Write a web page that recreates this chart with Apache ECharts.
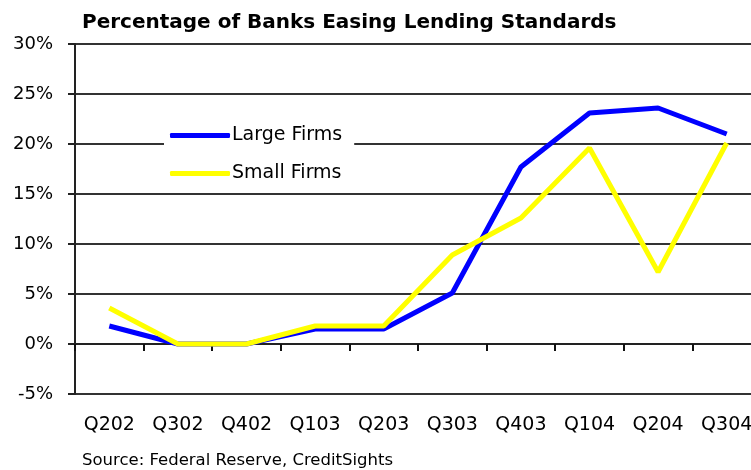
<!DOCTYPE html>
<html>
<head>
<meta charset="utf-8">
<script src="https://cdn.jsdelivr.net/npm/echarts@6/dist/echarts.min.js"></script>
<style>
  html, body { margin: 0; padding: 0; background: #fff; }
  #chart { width: 751px; height: 470px; }
</style>
</head>
<body>
<div id="chart"></div>
<script>
// Quarterly survey periods
const quarters = ['Q202', 'Q302', 'Q402', 'Q103', 'Q203', 'Q303', 'Q403', 'Q104', 'Q204', 'Q304'];
// Share of banks easing standards (%), by borrower size
const largeFirms = [1.8, 0, 0, 1.5, 1.5, 5.1, 17.7, 23.1, 23.6, 21.0];
const smallFirms = [3.6, 0, 0, 1.8, 1.8, 8.9, 12.6, 19.6, 7.2, 20.1];
// Value axis range and step
const yMin = -5, yMax = 30, yStep = 5;

const FONT = 'DejaVu Sans';
const chart = echarts.init(document.getElementById('chart'), null, { renderer: 'canvas' });

chart.setOption({
  animation: false,
  backgroundColor: '#ffffff',
  title: [
    {
      text: 'Percentage of Banks Easing Lending Standards',
      left: 82, top: 13, padding: 0,
      textStyle: { fontFamily: FONT, fontWeight: 'bold', fontSize: 20, color: '#000' }
    },
    {
      text: 'Source: Federal Reserve, CreditSights',
      left: 82, top: 452, padding: 0,
      textStyle: { fontFamily: FONT, fontWeight: 'normal', fontSize: 16.5, color: '#000' }
    }
  ],
  legend: {
    orient: 'vertical',
    left: 164, top: 118,
    padding: [8, 12, 8, 6],
    backgroundColor: '#ffffff',
    itemWidth: 60, itemHeight: 5, itemGap: 19,
    icon: 'roundRect',
    textStyle: { fontFamily: FONT, fontSize: 19, color: '#000', padding: [0, 0, 0, -3] },
    data: ['Large Firms', 'Small Firms']
  },
  grid: { left: 75, top: 44, width: 686, height: 350, containLabel: false, outerBoundsMode: 'none' },
  xAxis: [
    {
      // category labels along the bottom of the plot
      type: 'category', data: quarters, position: 'bottom', boundaryGap: true,
      axisLine: { show: false, onZero: false },
      axisTick: { show: false },
      axisLabel: {
        interval: 0, hideOverlap: false,
        fontFamily: FONT, fontSize: 19, color: '#000', margin: 22
      },
      splitLine: { show: false }
    },
    {
      // baseline with tick marks at the zero level
      type: 'category', data: quarters, position: 'bottom', boundaryGap: true,
      axisLine: { show: true, onZero: true, lineStyle: { color: '#222', width: 2 } },
      axisTick: { show: true, interval: 0, length: 7, inside: false, lineStyle: { color: '#111', width: 2 } },
      axisLabel: { show: false },
      splitLine: { show: false }
    }
  ],
  yAxis: {
    type: 'value', min: yMin, max: yMax, interval: yStep,
    axisLine: { show: true, onZero: false, lineStyle: { color: '#222', width: 2 } },
    axisTick: { show: true, length: 7, lineStyle: { color: '#222', width: 2 } },
    axisLabel: { fontFamily: FONT, fontSize: 18, color: '#000', margin: 22, formatter: '{value}%' },
    splitLine: { show: true, lineStyle: { color: '#333', width: 2 } }
  },
  series: [
    {
      name: 'Large Firms', type: 'line', data: largeFirms, xAxisIndex: 0,
      symbol: 'none', color: '#0000ff',
      lineStyle: { width: 5, color: '#0000ff' }, z: 3
    },
    {
      name: 'Small Firms', type: 'line', data: smallFirms, xAxisIndex: 0,
      symbol: 'none', color: '#ffff00',
      lineStyle: { width: 5, color: '#ffff00' }, z: 4
    }
  ]
});
</script>
</body>
</html>
